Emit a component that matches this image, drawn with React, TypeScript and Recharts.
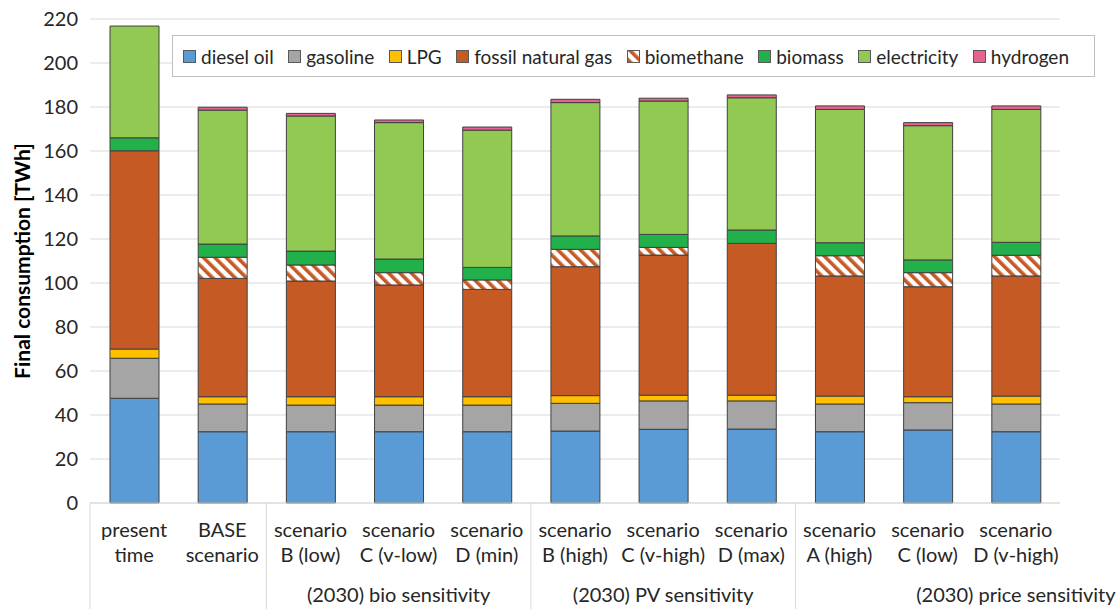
import React from "react";
import { BarChart, Bar, XAxis, YAxis, CartesianGrid, Legend } from "recharts";

// category labels (two lines each)
const labelTop = ["present", "BASE", "scenario", "scenario", "scenario", "scenario", "scenario", "scenario", "scenario", "scenario", "scenario"];
const labelBottom = ["time", "scenario", "B (low)", "C (v-low)", "D (min)", "B (high)", "C (v-high)", "D (max)", "A (high)", "C (low)", "D (v-high)"];

// groups: first category index, category index the label sits under
const groupLabels = ["", "(2030) bio sensitivity", "(2030) PV sensitivity", "(2030) price sensitivity"];
const groupStart = [0, 2, 5, 8];
const groupAnchor = [0, 3, 6, 10];

const yTicks = [0, 20, 40, 60, 80, 100, 120, 140, 160, 180, 200, 220];

// TWh per carrier
const diesel = [47.6, 32.4, 32.4, 32.4, 32.4, 32.7, 33.5, 33.6, 32.4, 33.2, 32.4];
const gasoline = [18.2, 12.6, 12.1, 12.1, 12.1, 12.6, 12.9, 12.8, 12.6, 12.4, 12.6];
const lpg = [4.2, 3.3, 3.8, 3.8, 3.8, 3.5, 2.6, 2.6, 3.6, 2.7, 3.6];
const fossilGas = [90.1, 53.8, 52.6, 50.8, 48.8, 58.6, 63.7, 69.0, 54.6, 50.0, 54.6];
const biomethane = [0, 9.6, 7.3, 5.6, 4.3, 7.9, 3.5, 0, 9.2, 6.4, 9.4];
const biomass = [5.9, 6.0, 6.3, 6.2, 5.7, 6.1, 5.9, 6.1, 5.9, 5.8, 5.9];
const electricity = [50.8, 60.9, 61.4, 62.0, 62.4, 60.6, 60.6, 60.1, 60.6, 61.0, 60.4];
const hydrogen = [0, 1.3, 1.2, 1.2, 1.4, 1.5, 1.3, 1.3, 1.6, 1.4, 1.6];

const series = [
  { key: "diesel", name: "diesel oil", values: diesel, fill: "#5B9BD5" },
  { key: "gasoline", name: "gasoline", values: gasoline, fill: "#A5A5A5" },
  { key: "lpg", name: "LPG", values: lpg, fill: "#FFC000" },
  { key: "fossilGas", name: "fossil natural gas", values: fossilGas, fill: "#C55A25" },
  { key: "biomethane", name: "biomethane", values: biomethane, fill: "url(#hatch)" },
  { key: "biomass", name: "biomass", values: biomass, fill: "#22B04B" },
  { key: "electricity", name: "electricity", values: electricity, fill: "#92C953" },
  { key: "hydrogen", name: "hydrogen", values: hydrogen, fill: "#E8628F" },
];

const data = labelTop.map((_, i) => {
  const row: Record<string, number | string> = { name: `${labelTop[i]} ${labelBottom[i]}` };
  series.forEach((s) => (row[s.key] = s.values[i]));
  return row;
});

const W = 1117;
const H = 609;
const PLOT_LEFT = 90;
const PLOT_RIGHT = 1060;
const BAND = (PLOT_RIGHT - PLOT_LEFT) / labelTop.length;
const FONT = "Lato, 'Noto Sans', sans-serif";
const TEXT = "#262626";
const GRID = "#D9D9D9";
const HATCH = "#C55A25";

function HatchPattern({ id }: { id: string }) {
  return (
    <pattern id={id} patternUnits="userSpaceOnUse" width="8" height="8" patternTransform="rotate(-45)">
      <rect width="8" height="8" fill="#fff" />
      <rect width="3.6" height="8" fill={HATCH} />
    </pattern>
  );
}

function CategoryTick(props: any) {
  const { x, y, payload } = props;
  const i = payload.index;
  const g = groupStart.indexOf(i);
  const a = groupAnchor.indexOf(i);
  return (
    <g>
      <text x={x} y={y + 34} textAnchor="middle" fontSize={20} fontFamily={FONT} fill={TEXT}>
        {labelTop[i]}
      </text>
      <text x={x} y={y + 59} textAnchor="middle" fontSize={20} fontFamily={FONT} fill={TEXT}>
        {labelBottom[i]}
      </text>
      {g >= 0 && <line x1={x - BAND / 2} x2={x - BAND / 2} y1={y} y2={H} stroke={GRID} strokeWidth={1} />}
      {a >= 0 && groupLabels[a] && (
        <text x={x} y={y + 99} textAnchor="middle" fontSize={20} fontFamily={FONT} fill={TEXT}>
          {groupLabels[a]}
        </text>
      )}
    </g>
  );
}

function LegendBox() {
  return (
    <div
      style={{
        display: "flex",
        alignItems: "center",
        height: 40,
        padding: "0 10px",
        border: "1px solid #BFBFBF",
        background: "#fff",
        fontFamily: FONT,
        fontSize: 19,
        color: TEXT,
        whiteSpace: "nowrap",
      }}
    >
      {series.map((s) => (
        <div key={s.key} style={{ display: "flex", alignItems: "center", marginRight: 14.5 }}>
          <svg width={13} height={13} style={{ marginRight: 5 }}>
            <defs>
              <HatchPattern id="hatchLegend" />
            </defs>
            <rect
              x={0.5}
              y={0.5}
              width={12}
              height={12}
              fill={s.key === "biomethane" ? "url(#hatchLegend)" : s.fill}
              stroke="#595959"
              strokeWidth={1}
            />
          </svg>
          <span>{s.name}</span>
        </div>
      ))}
    </div>
  );
}

export default function App() {
  return (
    <div style={{ position: "absolute", left: 0, top: 0, width: W, height: H, background: "#fff" }}>
      <BarChart width={W} height={H} data={data} margin={{ top: 19, right: W - PLOT_RIGHT, bottom: 0, left: 0 }} barSize={49}>
        <defs>
          <HatchPattern id="hatch" />
        </defs>
        <CartesianGrid vertical={false} stroke={GRID} strokeWidth={1} />
        <XAxis
          dataKey="name"
          height={H - 503}
          interval={0}
          tickLine={false}
          tickSize={0}
          tickMargin={0}
          axisLine={{ stroke: GRID }}
          tick={<CategoryTick />}
        />
        <YAxis
          width={PLOT_LEFT}
          domain={[0, 220]}
          ticks={yTicks}
          interval={0}
          axisLine={false}
          tickLine={false}
          tickMargin={6}
          tick={{ fontSize: 20, fill: TEXT, fontFamily: FONT }}
          label={(p: any) => {
            const vb = p.viewBox;
            return (
              <text
                transform={`translate(30, ${vb.y + vb.height / 2}) rotate(-90)`}
                textAnchor="middle"
                fontSize={21}
                fontWeight="bold"
                fontFamily={FONT}
                fill="#000"
              >
                Final consumption [TWh]
              </text>
            );
          }}
        />
        <Legend
          layout="horizontal"
          verticalAlign="middle"
          align="center"
          content={() => <LegendBox />}
          wrapperStyle={{ left: 172, top: 35, width: "auto", height: "auto" }}
        />
        {series.map((s) => (
          <Bar
            key={s.key}
            dataKey={s.key}
            name={s.name}
            stackId="a"
            fill={s.fill}
            stroke="#404040"
            strokeWidth={1}
            isAnimationActive={false}
          />
        ))}
      </BarChart>
    </div>
  );
}
